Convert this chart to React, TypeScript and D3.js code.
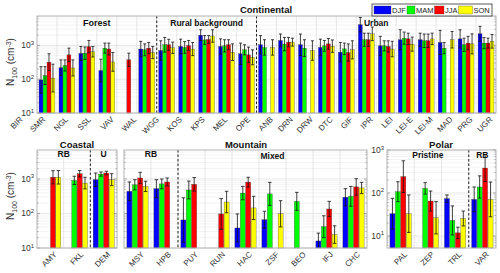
import * as d3 from "d3";

const seasons = ["DJF", "MAM", "JJA", "SON"];
const colors = ["#0000ff", "#00ff00", "#ff0000", "#ffff00"];

// top panel (Forest / Rural background / Urban)
const topCats = ["BIR", "SMR", "NGL", "SSL", "VAV", "WAL", "WGG", "KOS", "KPS", "MEL", "OPE", "ANB", "DRN", "DRW", "DTC", "GIF", "IPR", "LEI", "LEI-E", "LEI-M", "MAD", "PRG", "UGR"];
const topDJF = [95, 218, 580, 180, null, 780, 705, 930, 2000, 930, 565, 1045, 1400, 1045, 870, 630, 4100, 970, 1470, 1470, 1220, 1560, 2200];
const topDJFHi = [235, 372, 930, 390, null, 1320, 1370, 1530, 2900, 1560, 1170, 1950, 2170, 2170, 1530, 1220, 6700, 1850, 2900, 2300, 2780, 2900, 3650];
const topMAM = [128, 255, 590, 830, null, 740, 1045, 870, 1450, 970, 740, 870, 1090, 830, 970, 790, 1470, 970, 1640, 1370, 830, 1045, 1170];
const topMAMHi = [235, 372, 900, 1170, null, 1110, 1720, 1300, 1950, 1470, 1045, 1470, 1720, 1470, 1400, 1170, 2300, 1370, 2480, 2170, 1220, 1640, 1720];
const topJJA = [320, 525, 920, 780, 375, 830, 1045, 990, 1500, 1045, 525, null, 1250, null, 1110, 615, 1470, 930, 1560, 1370, null, 1170, 1170];
const topJJAHi = [565, 830, 1400, 1170, 590, 1220, 1520, 1400, 1950, 1470, 890, null, 1720, null, 1600, 1110, 2300, 1370, 2300, 2170, null, 1850, 1640];
const topSON = [108, 215, 650, 325, null, 615, 850, 780, 1900, 630, 445, 870, 1250, 705, 950, 740, 2200, 780, 1090, 1560, 1470, 1110, 1320];
const topSONHi = [278, 372, 930, 615, null, 930, 1250, 1220, 2900, 1110, 740, 1470, 1640, 1370, 1450, 1370, 3500, 1320, 1760, 2300, 2580, 2200, 2100];

// coastal
const coastCats = ["AMY", "FKL", "DEM"];
const coastDJF = [null, null, 955];
const coastDJFHi = [null, null, 1490];
const coastMAM = [null, 910, 1390];
const coastMAMHi = [null, 1200, 1600];
const coastJJA = [1120, 1420, 1490];
const coastJJAHi = [1740, 1760, 1680];
const coastSON = [1120, 760, 955];
const coastSONHi = [1760, 1120, 1420];

// mountain
const mtnCats = ["MSY", "HPB", "PUY", "RUN", "HAC", "ZSF", "BEO", "IFJ", "CHC"];
const mtnDJF = [440, 525, 65, null, 38, 66, null, 16, 295];
const mtnDJFHi = [820, 955, 285, null, 97, 116, null, 27, 525];
const mtnMAM = [680, 720, 480, null, 390, 370, 225, 41.5, 315];
const mtnMAMHi = [955, 1000, 870, null, 610, 800, 410, 86, 610];
const mtnJJA = [1070, 820, 700, 97, 810, null, null, 135, 590];
const mtnJJAHi = [1560, 1070, 1100, 270, 1120, null, null, 225, 1020];
const mtnSON = [610, null, null, 215, 145, 98, null, 24.5, 550];
const mtnSONHi = [860, null, null, 440, 315, 235, null, 44, 800];

// polar
const polCats = ["PAL", "ZEP", "TRL", "VAR"];
const polDJF = [33, null, 74, 71];
const polDJFHi = [75, null, 90, 138];
const polMAM = [107, 128, 23, 138];
const polMAMHi = [183, 174, 50, 250];
const polJJA = [240, 65, 11.8, 380];
const polJJAHi = [560, 111, 16, 780];
const polSON = [33, 26.5, 25.5, 71];
const polSONHi = [90, 63, 38, 180];

const FONT = "Liberation Sans, Arial, Helvetica, sans-serif";

function Panel({ x0, x1, y0, y1, domain, cats, vals, his, dashes, yTicks, tickX, barW, capW, labels, labelShift }) {
  const x = d3.scaleBand().domain(cats).range([x0, x1]);
  const bw = x.bandwidth();
  const sub = d3.scaleBand().domain(seasons).range([bw * 0.1, bw * 0.9]);
  const y = d3.scaleLog().domain(domain).range([y1, y0]);
  const minor = y.ticks().filter((t) => t >= domain[0] && t <= domain[1]);
  const major = [10, 100, 1000].filter((t) => t >= domain[0] && t <= domain[1]);
  return (
    <g>
      <rect x={x0} y={y0} width={x1 - x0} height={y1 - y0} fill="#fff" />
      {minor.map((t, i) => (
        <line key={"m" + i} x1={x0} x2={x1} y1={y(t)} y2={y(t)} stroke={major.includes(t) ? "#dcdcdc" : "#efefef"} strokeWidth={0.7} />
      ))}
      {cats.slice(1).map((c) => (
        <line key={"v" + c} x1={x(c)} x2={x(c)} y1={y0} y2={y1} stroke="#dcdcdc" strokeWidth={0.7} />
      ))}
      {minor.map((t, i) => (
        <g key={"t" + i}>
          <line x1={x0} x2={x0 + (major.includes(t) ? 3 : 1.5)} y1={y(t)} y2={y(t)} stroke="#777" strokeWidth={0.6} />
          <line x1={x1} x2={x1 - (major.includes(t) ? 3 : 1.5)} y1={y(t)} y2={y(t)} stroke="#777" strokeWidth={0.6} />
        </g>
      ))}
      {seasons.map((s, si) =>
        cats.map((c, ci) => {
          const v = vals[si][ci];
          if (v == null) return null;
          const w = barW;
          const cx = x(c) + sub(s) + sub.bandwidth() / 2;
          const hi = his[si][ci];
          const lo = Math.max((v * v) / hi, domain[0]);
          return (
            <g key={s + c}>
              <rect x={cx - w / 2} y={y(v)} width={w} height={y1 - y(v)} fill={colors[si]} stroke="#333" strokeWidth={0.3} />
              <line x1={cx} x2={cx} y1={y(hi)} y2={y(lo)} stroke="#111" strokeWidth={0.8} />
              <line x1={cx - capW / 2} x2={cx + capW / 2} y1={y(hi)} y2={y(hi)} stroke="#111" strokeWidth={0.8} />
              {lo > domain[0] && (
                <line x1={cx - capW / 2} x2={cx + capW / 2} y1={y(lo)} y2={y(lo)} stroke="#111" strokeWidth={0.8} />
              )}
            </g>
          );
        })
      )}
      {dashes.map((d) => (
        <line key={"d" + d} x1={x(cats[d])} x2={x(cats[d])} y1={y0} y2={y1} stroke="#222" strokeWidth={1} strokeDasharray="2.5,2" />
      ))}
      <rect x={x0} y={y0} width={x1 - x0} height={y1 - y0} fill="none" stroke="#b4b4b4" strokeWidth={1} />
      {yTicks &&
        major.map((t) => (
          <text key={"yl" + t} x={tickX} y={y(t) + 3} textAnchor="end" fontSize={8.5} fill="#333" fontFamily={FONT}>
            10
            <tspan dy={-3.5} fontSize={6}>
              {Math.round(Math.log10(t))}
            </tspan>
          </text>
        ))}
      {cats.map((c, i) => {
        const cx = x(c) + bw / 2 + 5 - (labelShift ? labelShift(i) : 0);
        const cy = y1 + 5;
        return (
          <text key={"xl" + c} transform={`translate(${cx},${cy}) rotate(-45)`} textAnchor="end" dy="0.35em" fontSize={8} fill="#333" fontFamily={FONT}>
            {c}
          </text>
        );
      })}
      {labels.map((l, i) => {
        const from = x(cats[l.from]);
        const to = x(cats[l.to]) + bw;
        return (
          <text key={"g" + i} x={(from + to) / 2} y={l.y} textAnchor="middle" fontSize={l.size || 8.5} fontWeight="bold" fill="#111" fontFamily={FONT}>
            {l.text}
          </text>
        );
      })}
    </g>
  );
}

function YLabel({ x, y }) {
  return (
    <text transform={`translate(${x},${y}) rotate(-90)`} textAnchor="middle" fontSize={10} fill="#333" fontFamily={FONT}>
      N
      <tspan dy={2.5} fontSize={7}>100</tspan>
      <tspan dy={-2.5}> (cm</tspan>
      <tspan dy={-3.5} fontSize={7}>-3</tspan>
      <tspan dy={3.5}>)</tspan>
    </text>
  );
}

export default function App() {
  const legendItems = [
    { rx: 374, rw: 17, tx: 392 },
    { rx: 407, rw: 8, tx: 416 },
    { rx: 434.5, rw: 9.5, tx: 445 },
    { rx: 458.5, rw: 14, tx: 473.5 },
  ];
  return (
    <svg width={500} height={273} style={{ position: "absolute", left: 0, top: 0, background: "#fff" }}>
      <Panel
        x0={37} x1={496} y0={16} y1={113} domain={[10, Math.pow(10, 3.87)]}
        cats={topCats}
        vals={[topDJF, topMAM, topJJA, topSON]}
        his={[topDJFHi, topMAMHi, topJJAHi, topSONHi]}
        dashes={[6, 11]} yTicks tickX={34} barW={3.9} capW={3}
        labelShift={(i) => Math.max(0, 11 - i) * 2.8}
        labels={[
          { text: "Forest", from: 0, to: 5, y: 26, size: 9 },
          { text: "Rural background", from: 6, to: 10, y: 26 },
          { text: "Urban", from: 11, to: 22, y: 26 },
        ]}
      />
      <text x={266} y={13} textAnchor="middle" fontSize={9.5} fontWeight="bold" fill="#111" fontFamily={FONT}>Continental</text>
      <YLabel x={14} y={62} />

      <Panel
        x0={37} x1={117} y0={150} y1={248} domain={[10, Math.pow(10, 3.84)]}
        cats={coastCats}
        vals={[coastDJF, coastMAM, coastJJA, coastSON]}
        his={[coastDJFHi, coastMAMHi, coastJJAHi, coastSONHi]}
        dashes={[2]} yTicks tickX={34} barW={5} capW={3.5}
        labels={[
          { text: "RB", from: 0, to: 1, y: 157 },
          { text: "U", from: 2, to: 2, y: 157 },
        ]}
      />
      <text x={77} y={148} textAnchor="middle" fontSize={9.5} fontWeight="bold" fill="#111" fontFamily={FONT}>Coastal</text>
      <YLabel x={14} y={196} />

      <Panel
        x0={124} x1={367} y0={150} y1={248} domain={[10, Math.pow(10, 3.84)]}
        cats={mtnCats}
        vals={[mtnDJF, mtnMAM, mtnJJA, mtnSON]}
        his={[mtnDJFHi, mtnMAMHi, mtnJJAHi, mtnSONHi]}
        dashes={[2]} yTicks={false} tickX={0} barW={5} capW={3.5}
        labels={[
          { text: "RB", from: 0, to: 1, y: 157 },
          { text: "Mixed", from: 2, to: 8, y: 159 },
        ]}
      />
      <text x={246} y={148} textAnchor="middle" fontSize={9.5} fontWeight="bold" fill="#111" fontFamily={FONT}>Mountain</text>

      <Panel
        x0={387} x1={496} y0={150} y1={248} domain={[5.25, 1000]}
        cats={polCats}
        vals={[polDJF, polMAM, polJJA, polSON]}
        his={[polDJFHi, polMAMHi, polJJAHi, polSONHi]}
        dashes={[3]} yTicks tickX={384} barW={5} capW={3.5}
        labels={[
          { text: "Pristine", from: 0, to: 2, y: 158 },
          { text: "RB", from: 3, to: 3, y: 158 },
        ]}
      />
      <text x={441} y={148} textAnchor="middle" fontSize={9.5} fontWeight="bold" fill="#111" fontFamily={FONT}>Polar</text>

      <g>
        <rect x={372} y={4} width={120} height={12} fill="#fff" stroke="#333" strokeWidth={0.8} />
        {seasons.map((s, i) => (
          <g key={s}>
            <rect x={legendItems[i].rx} y={6} width={legendItems[i].rw} height={8} fill={colors[i]} stroke="#333" strokeWidth={0.3} />
            <text x={legendItems[i].tx} y={12.8} fontSize={7.5} fill="#222" fontFamily={FONT}>{s}</text>
          </g>
        ))}
      </g>
    </svg>
  );
}
